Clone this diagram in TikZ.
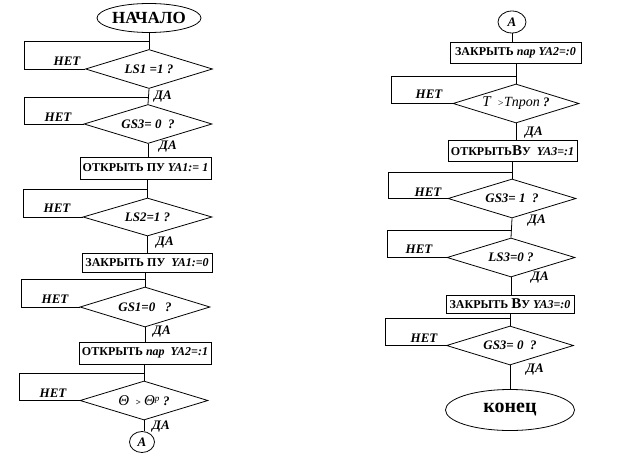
\documentclass[tikz,border=0pt]{standalone}
\usepackage{fontspec}
\setmainfont{Liberation Serif}
\usetikzlibrary{shapes.geometric}
\tikzset{
  ln/.style={draw=black, line width=0.8pt},
  dec/.style={diamond, draw, line width=0.8pt, minimum width=127pt, minimum height=39pt, aspect=3, inner sep=0pt, font=\fontsize{13}{13}\selectfont\bfseries\itshape},
  act/.style={rectangle, draw, line width=0.8pt, inner sep=1pt, font=\fontsize{12}{12}\selectfont\bfseries},
  lbl/.style={inner sep=0pt, font=\fontsize{13}{13}\selectfont\bfseries\itshape},
  term/.style={ellipse, draw, line width=0.8pt, inner sep=0pt},
  conn/.style={ellipse, draw, line width=0.8pt, inner sep=0pt, font=\fontsize{13}{13}\selectfont\bfseries\itshape},
}
\begin{document}
\begin{tikzpicture}[x=1pt,y=-1pt]
\useasboundingbox (0,0) rectangle (617,454);
% ---------------- left column ----------------
\node[term, minimum width=98pt, minimum height=29pt, font=\fontsize{17}{17}\selectfont\bfseries] (start) at (149,18) {НАЧАЛО};
\node[dec] (d1) at (149,69) {LS1 =1 ?};
\node[dec, minimum width=128pt] (d2) at (148,124) {GS3= 0 \ ?};
\node[act, minimum width=131pt, minimum height=22pt] (b1) at (145.5,168) {ОТКРЫТЬ ПУ \textit{YA1:= 1}};
\node[dec, minimum width=129pt, minimum height=38pt] (d3) at (147.5,217) {LS2=1 ?};
\node[act, minimum width=130pt, minimum height=19pt] (b2) at (147,262.5) {ЗАКРЫТЬ ПУ \ \textit{YA1:=0}};
\node[dec, minimum width=130pt, minimum height=40pt] (d4) at (145,307) {GS1=0 \ \ ?};
\node[act, minimum width=132pt, minimum height=22pt] (b3) at (145,353) {ОТКРЫТЬ \textit{пар} \ \textit{YA2=:1}};
\node[dec, minimum width=128pt] (d5) at (144,400.5) {{\mdseries\fontsize{15}{15}\selectfont Θ} \ {\fontsize{9}{9}\selectfont >} {\mdseries\fontsize{15}{15}\selectfont Θ}\textsuperscript{\mdseries р} ?};
\node[conn, minimum width=25pt, minimum height=21pt] (a1) at (142,442) {A};

\node[lbl] (n1) at (67,61) {НЕТ};
\node[lbl] (n2) at (58,117) {НЕТ};
\node[lbl] (n3) at (57,208) {НЕТ};
\node[lbl] (n4) at (55,299) {НЕТ};
\node[lbl] (n5) at (53,393) {НЕТ};
\node[lbl] (y1) at (163,97) {ДА};
\node[lbl] (y2) at (168,147) {ДА};
\node[lbl] (y3) at (165,243) {ДА};
\node[lbl] (y4) at (162,332) {ДА};
\node[lbl] (y5) at (161,427) {ДА};

\coordinate (j1) at (d1.north |- 0,41);  \coordinate (c1) at (24,69);
\coordinate (j2) at (d2.north |- 0,97);  \coordinate (c2) at (24,124);
\coordinate (j3) at (d3.north |- 0,189); \coordinate (c3) at (23,217);
\coordinate (j4) at (d4.north |- 0,279); \coordinate (c4) at (21,307);
\coordinate (j5) at (d5.north |- 0,373); \coordinate (c5) at (19,400.5);

\draw[ln] (d1.north |- start.south) -- (d1.north);
\draw[ln] (d1.south) -- (d2.north);
\draw[ln] (d2.south) -- (d2.south |- b1.north);
\draw[ln] (d3.north |- b1.south) -- (d3.north);
\draw[ln] (d3.south) -- (d3.south |- b2.north);
\draw[ln] (d4.north |- b2.south) -- (d4.north);
\draw[ln] (d4.south) -- (d4.south |- b3.north);
\draw[ln] (d5.north |- b3.south) -- (d5.north);
\draw[ln] (d5.south) -- (d5.south |- a1.north);

\draw[ln] (j1) -| (c1) -- (d1.west);
\draw[ln] (j2) -| (c2) -- (d2.west);
\draw[ln] (j3) -| (c3) -- (d3.west);
\draw[ln] (j4) -| (c4) -- (d4.west);
\draw[ln] (j5) -| (c5) -- (d5.west);

% ---------------- right column ----------------
\node[conn, minimum width=28pt, minimum height=22pt] (a2) at (512,22) {A};
\node[act, minimum width=131pt, minimum height=21pt] (r1) at (515.5,52.5) {ЗАКРЫТЬ \textit{пар YA2=:0}};
\node[dec, minimum width=126pt] (d6) at (516,103.5) {{\mdseries\fontsize{15}{15}\selectfont T} \ {\mdseries\fontsize{10}{10}\selectfont >}{\mdseries\fontsize{14}{14}\selectfont Tпроп} ?};
\node[act, minimum width=129pt, minimum height=21pt] (r2) at (512.5,150.5) {ОТКРЫТЬ{\fontsize{15}{15}\selectfont В}У \ \textit{YA3=:1}};
\node[dec, minimum width=128pt] (d7) at (512,198.5) {GS3= 1 \ ?};
\node[dec, minimum width=128pt] (d8) at (511,257.5) {LS3=0 ?};
\node[act, minimum width=128pt, minimum height=18pt] (r3) at (510,304) {ЗАКРЫТЬ {\fontsize{15}{15}\selectfont В}У \textit{YA3=:0}};
\node[dec, minimum width=127pt] (d9) at (510,345.5) {GS3= 0 \ ?};
\node[term, minimum width=129pt, minimum height=41pt, font=\fontsize{20}{20}\selectfont\bfseries] (stop) at (510,410) {конец};

\node[lbl] (n6) at (429,94) {НЕТ};
\node[lbl] (n7) at (428,192) {НЕТ};
\node[lbl] (n8) at (419,249) {НЕТ};
\node[lbl] (n9) at (424,338) {НЕТ};
\node[lbl] (y6) at (534,133) {ДА};
\node[lbl] (y7) at (537,221) {ДА};
\node[lbl] (y8) at (540,278) {ДА};
\node[lbl] (y9) at (535,370) {ДА};

\coordinate (j6) at (d6.north |- 0,76);  \coordinate (c6) at (391,103.5);
\coordinate (j7) at (d7.north |- 0,172); \coordinate (c7) at (388,198.5);
\coordinate (j8) at (d8.north |- 0,230); \coordinate (c8) at (387,257.5);
\coordinate (j9) at (d9.north |- 0,318); \coordinate (c9) at (385,345.5);

\draw[ln] (a2.south) -- (a2.south |- r1.north);
\draw[ln] (d6.north |- r1.south) -- (d6.north);
\draw[ln] (d6.south) -- (d6.south |- r2.north);
\draw[ln] (d7.north |- r2.south) -- (d7.north);
\draw[ln] (d7.south) -- (d8.north);
\draw[ln] (d8.south) -- (d8.south |- r3.north);
\draw[ln] (d9.north |- r3.south) -- (d9.north);
\draw[ln] (d9.south) -- (d9.south |- stop.north);

\draw[ln] (j6) -| (c6) -- (d6.west);
\draw[ln] (j7) -| (c7) -- (d7.west);
\draw[ln] (j8) -| (c8) -- (d8.west);
\draw[ln] (j9) -| (c9) -- (d9.west);
\end{tikzpicture}
\end{document}
